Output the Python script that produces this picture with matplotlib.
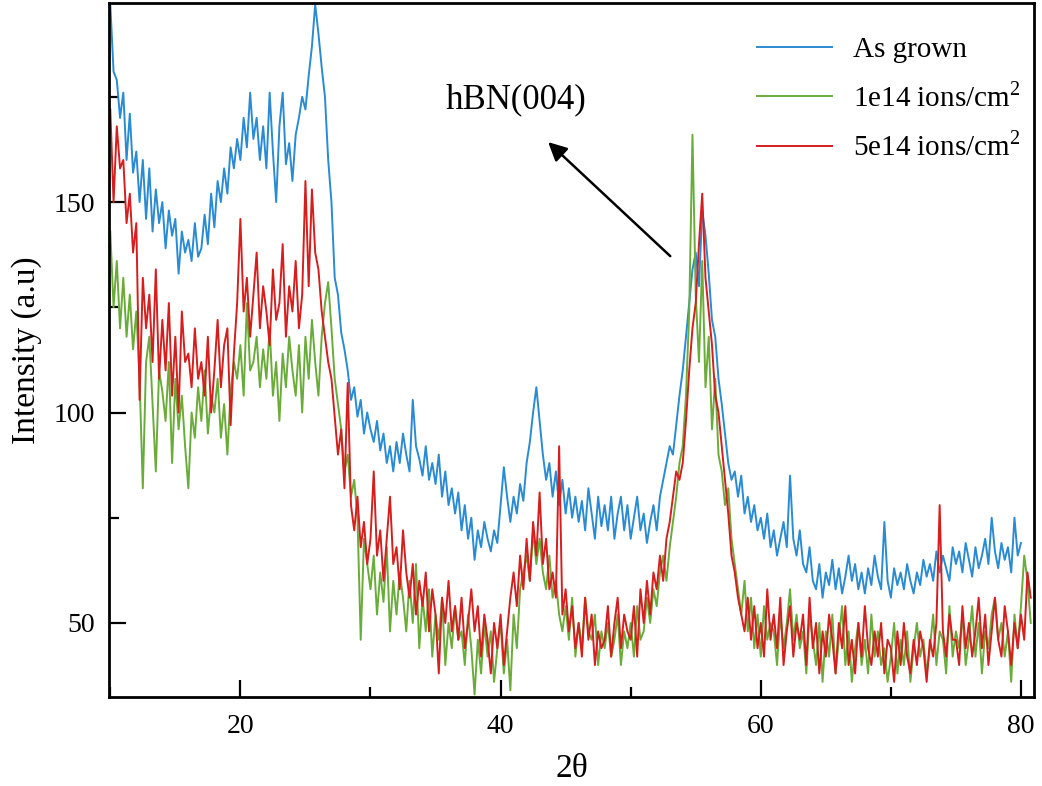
import numpy as np
import matplotlib
matplotlib.use('Agg')
import matplotlib.pyplot as plt

plt.rcParams['font.family'] = ['Liberation Serif', 'DejaVu Serif']
plt.rcParams['mathtext.fontset'] = 'custom'
plt.rcParams['mathtext.rm'] = 'Liberation Serif'

# 2theta scan: start 10 deg, step 0.25 deg
two_theta_start = 10.0
two_theta_step = 0.25

as_grown = [
    197, 181, 179, 170, 176, 160, 171, 157, 162, 150, 160, 146,
    158, 143, 153, 145, 150, 139, 148, 142, 146, 133, 143, 138,
    141, 136, 145, 137, 139, 147, 140, 152, 144, 155, 150, 158,
    152, 163, 158, 165, 160, 170, 163, 176, 165, 170, 160, 168,
    158, 176, 162, 150, 168, 176, 159, 164, 155, 166, 170, 175,
    172, 180, 187, 197, 190, 182, 175, 160, 150, 132, 128, 119,
    115, 110, 103, 106, 99, 103, 95, 100, 96, 93, 98, 91,
    95, 88, 92, 86, 93, 88, 95, 90, 86, 103, 92, 89,
    85, 92, 84, 88, 83, 90, 80, 86, 78, 82, 76, 81,
    72, 78, 70, 75, 65, 72, 68, 74, 70, 67, 72, 69,
    78, 87, 80, 74, 80, 76, 83, 79, 88, 93, 100, 106,
    98, 90, 84, 88, 80, 86, 78, 84, 76, 82, 75, 80,
    74, 79, 72, 82, 76, 70, 80, 73, 78, 72, 80, 70,
    76, 80, 72, 78, 70, 75, 80, 72, 76, 69, 74, 78,
    72, 80, 84, 88, 92, 90, 97, 104, 110, 118, 126, 134,
    138, 130, 148, 142, 133, 122, 118, 108, 102, 95, 88, 84,
    86, 80, 85, 76, 80, 74, 78, 72, 75, 70, 76, 68,
    72, 66, 70, 74, 68, 85, 70, 66, 72, 64, 62, 68,
    60, 58, 64, 56, 62, 59, 65, 58, 63, 57, 61, 66,
    60, 64, 58, 62, 57, 63, 59, 66, 61, 58, 74, 60,
    56, 63, 59, 62, 58, 64, 60, 57, 62, 59, 65, 61,
    64, 60, 67, 62, 66, 63, 60, 68, 64, 67, 62, 69,
    65, 61, 68, 63, 66, 70, 64, 75, 67, 63, 69, 65,
    68, 62, 75, 66, 69,
]

dose_1e14 = [
    143, 125, 136, 120, 132, 118, 128, 115, 124, 108, 82, 112,
    118, 102, 86, 110, 105, 98, 112, 88, 108, 96, 104, 92,
    82, 100, 94, 106, 98, 110, 95, 104, 100, 108, 94, 102,
    90, 105, 112, 108, 116, 104, 126, 110, 112, 118, 106, 115,
    108, 120, 104, 112, 98, 114, 106, 118, 110, 104, 116, 100,
    118, 108, 122, 112, 104, 118, 126, 131, 120, 108, 102, 96,
    86, 90, 80, 84, 75, 46, 70, 64, 58, 66, 52, 62,
    55, 68, 48, 60, 52, 62, 56, 48, 60, 50, 64, 44,
    56, 48, 58, 42, 52, 46, 56, 40, 50, 44, 54, 46,
    48, 40, 52, 44, 33, 46, 38, 50, 42, 48, 36, 44,
    50, 38, 46, 34, 52, 44, 58, 62, 66, 60, 72, 64,
    70, 62, 58, 66, 56, 60, 52, 48, 54, 46, 56, 42,
    50, 44, 56, 48, 46, 52, 40, 48, 44, 50, 42, 46,
    52, 40, 48, 44, 50, 42, 54, 46, 48, 56, 50, 58,
    54, 62, 66, 60, 68, 74, 80, 88, 92, 104, 124, 166,
    128, 112, 136, 106, 118, 96, 108, 90, 86, 78, 82, 70,
    64, 58, 52, 60, 48, 56, 44, 52, 42, 54, 46, 50,
    48, 40, 52, 44, 50, 58, 46, 52, 44, 48, 38, 52,
    46, 40, 50, 36, 48, 42, 52, 38, 46, 54, 40, 48,
    36, 44, 50, 40, 46, 38, 52, 42, 48, 40, 44, 36,
    42, 50, 38, 46, 40, 48, 36, 44, 50, 42, 46, 38,
    44, 52, 40, 48, 46, 38, 54, 42, 48, 44, 52, 40,
    46, 54, 42, 50, 38, 48, 44, 52, 56, 46, 50, 42,
    48, 36, 52, 44, 54, 66, 60, 50,
]

dose_5e14 = [
    172, 150, 168, 158, 160, 145, 152, 138, 145, 103, 132, 120,
    128, 112, 134, 108, 122, 110, 126, 104, 118, 100, 124, 112,
    114, 106, 120, 108, 112, 104, 118, 100, 110, 122, 106, 116,
    120, 97, 114, 126, 146, 124, 132, 118, 128, 138, 120, 130,
    124, 116, 134, 122, 126, 140, 118, 130, 124, 136, 120, 128,
    155, 130, 153, 138, 134, 124, 118, 112, 108, 99, 90, 96,
    82, 107, 78, 72, 80, 68, 74, 64, 70, 86, 66, 72,
    60, 70, 80, 64, 68, 58, 72, 62, 56, 64, 52, 60,
    54, 62, 48, 58, 52, 38, 56, 50, 60, 48, 54, 46,
    56, 44, 50, 58, 48, 54, 42, 52, 46, 38, 50, 44,
    52, 40, 48, 56, 62, 54, 66, 58, 70, 60, 74, 66,
    81, 64, 70, 58, 62, 56, 92, 52, 58, 48, 54, 44,
    50, 42, 56, 46, 52, 40, 48, 44, 46, 54, 42, 50,
    56, 44, 52, 48, 46, 54, 42, 58, 50, 60, 52, 62,
    58, 66, 60, 70, 74, 80, 86, 84, 88, 98, 110, 120,
    126, 140, 152, 132, 124, 116, 104, 100, 92, 84, 76, 66,
    62, 56, 52, 48, 56, 46, 54, 44, 50, 42, 58, 46,
    52, 44, 56, 40, 48, 54, 42, 50, 46, 52, 40, 56,
    44, 50, 38, 48, 42, 52, 46, 38, 50, 44, 54, 40,
    46, 38, 50, 42, 54, 44, 40, 48, 42, 50, 38, 46,
    44, 36, 48, 40, 50, 42, 38, 46, 40, 48, 44, 36,
    46, 42, 50, 78, 48, 42, 52, 46, 46, 40, 54, 44,
    50, 42, 48, 56, 44, 52, 40, 48, 56, 46, 42, 54,
    48, 40, 50, 44, 52, 46, 62, 56,
]

labels = ['As grown', '1e14 ions/cm$^2$', '5e14 ions/cm$^2$']
colors = ['#2a8bd3', '#6aab3a', '#d61e1e']

fig = plt.figure(figsize=(10.42, 7.86), dpi=100)
ax = fig.add_axes([0.1046, 0.1132, 0.8877, 0.8830])

for y, lab, c in zip([as_grown, dose_1e14, dose_5e14], labels, colors):
    x = two_theta_start + two_theta_step * np.arange(len(y))
    ax.plot(x, y, color=c, lw=1.4, label=lab)

ax.set_xlim(9.9, 81)
ax.set_ylim(32.4, 197.3)
ax.set_xticks([20, 40, 60, 80])
ax.set_xticks([10, 30, 50, 70], minor=True)
ax.set_yticks([50, 100, 150])
ax.set_yticks([75, 125, 175], minor=True)
ax.tick_params(which='both', direction='in', width=1.6, labelsize=20,
               top=False, right=False)
ax.tick_params(which='major', length=12)
ax.tick_params(which='minor', length=7)
ax.tick_params(axis='x', which='major', pad=12)
ax.tick_params(axis='y', which='major', pad=10)
for s in ax.spines.values():
    s.set_linewidth(2)

ax.set_xlabel('2θ', fontsize=24, labelpad=11)
ax.set_ylabel('Intensity (a.u)', fontsize=24, labelpad=8)

ax.annotate('', xy=(43.5, 164.7), xytext=(53.2, 136.7),
            arrowprops=dict(arrowstyle='-|>', color='black', lw=1.8,
                            mutation_scale=28))
ax.text(41.2, 174.4, 'hBN(004)', fontsize=25, ha='center', va='center')

ax.legend(loc='upper left', bbox_to_anchor=(0.7005, 0.951), frameon=False,
          fontsize=21, handlelength=2.57, handletextpad=0.72,
          labelspacing=0.66, borderpad=0, borderaxespad=0)

fig.savefig('out.png', dpi=100)
